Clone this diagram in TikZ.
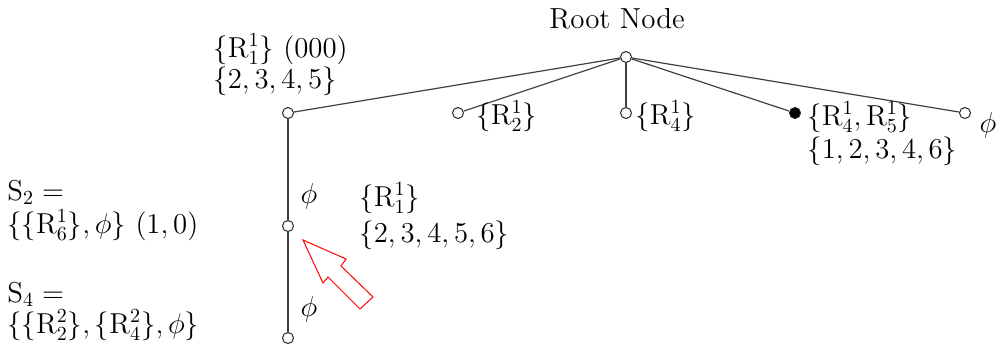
\documentclass[tikz,border=0pt]{standalone}
\newcommand{\Rv}{\mathrm{R}}
\begin{document}
\begin{tikzpicture}[x=0.5pt,y=-0.5pt,
  every node/.style={font=\fontsize{14.5}{16}\selectfont, inner sep=0pt},
  vtx/.style={circle,draw=black!85,fill=white,minimum size=5.5pt,inner sep=0pt,line width=0.5pt},
  lbl/.style={anchor=base west},
  edge/.style={line width=0.6pt, draw=black!75},
  hollowarrow/.style={draw=red, line width=0.5pt, line join=miter}]
\useasboundingbox (0,0) rectangle (998,344);
% vertices
\node[vtx] (root) at (626,57) {};
\node[vtx] (a) at (288,113) {};
\node[vtx] (b) at (458,113) {};
\node[vtx] (c) at (626,113) {};
\node[vtx,fill=black] (d) at (795,113) {};
\node[vtx] (e) at (965,113) {};
\node[vtx] (f) at (288,226) {};
\node[vtx] (g) at (288,338) {};
% edges
\draw[edge] (root) -- (a);
\draw[edge] (root) -- (b);
\draw[edge] (root) -- (c);
\draw[edge] (root) -- (d);
\draw[edge] (root) -- (e);
\draw[edge] (a) -- (f);
\draw[edge] (f) -- (g);
% labels
\node[anchor=base] (rootlbl) at (617,28) {Root Node};
\node[lbl] (la1) at (213,57) {$\{\Rv_1^1\}~(000)$};
\node[lbl] (la2) at (213,88) {$\{2,3,4,5\}$};
\node[lbl] (lb) at (476,124) {$\{\Rv_2^1\}$};
\node[lbl] (lc) at (635,124) {$\{\Rv_4^1\}$};
\node[lbl] (ld1) at (807,125) {$\{\Rv_4^1,\Rv_5^1\}$};
\node[lbl] (ld2) at (807,158) {$\{1,2,3,4,6\}$};
\node (le) at (988,125) {$\phi$};
\node (p1) at (309,196) {$\phi$};
\node (p2) at (309,309) {$\phi$};
\node[lbl] (lf1) at (359,206) {$\{\Rv_1^1\}$};
\node[lbl] (lf2) at (359,242) {$\{2,3,4,5,6\}$};
\node[lbl] (s2a) at (7,200) {$\mathrm{S}_2=$};
\node[lbl] (s2b) at (7,233) {$\{\{\Rv_6^1\},\phi\}~(1,0)$};
\node[lbl] (s4a) at (7,302) {$\mathrm{S}_4=$};
\node[lbl] (s4b) at (7,333) {$\{\{\Rv_2^2\},\{\Rv_4^2\},\phi\}$};
% hollow arrow
\draw[hollowarrow] (303,240) -- (346,259) -- (341,266) -- (373,297) -- (360,309) -- (328,277) -- (323,283) -- cycle;
\end{tikzpicture}
\end{document}
